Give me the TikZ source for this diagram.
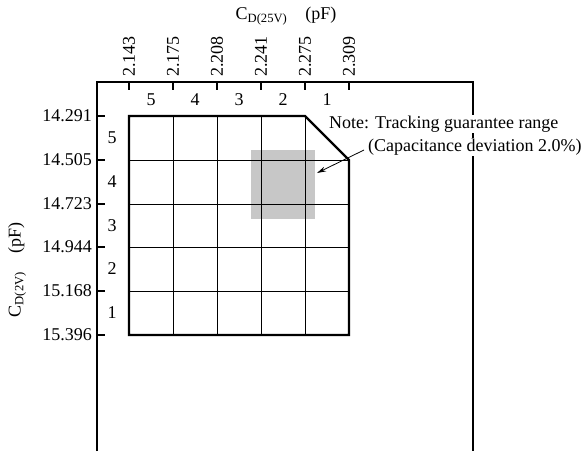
\documentclass[tikz,border=0pt]{standalone}
\usepackage{fontspec}
\setmainfont{Liberation Serif}
\usetikzlibrary{arrows.meta}
\begin{document}
\begin{tikzpicture}[x=1pt,y=-1pt,
  lbl/.style={inner sep=0pt,font=\fontsize{18}{21}\selectfont},
  framel/.style={line width=1.3pt},
  gridl/.style={line width=0.9pt},
  outl/.style={line width=2.4pt,line join=miter},
]
\useasboundingbox (0,0) rectangle (586,451);
% frame
\draw[framel] (97,451) -- (97,82) -- (473,82) -- (473,451);
% top ticks and labels
\foreach \x/\v [count=\i] in {129/2.143,173/2.175,217/2.208,261/2.241,305/2.275,349/2.309}{
  \draw[framel] (\x,82) -- (\x,90);
  \node[lbl,rotate=90,anchor=west] (t\i) at (\x,77) {\v};
}
% left ticks and labels
\foreach \y/\v [count=\i] in {116/14.291,160/14.505,204/14.723,247/14.944,291/15.168,335/15.396}{
  \draw[framel] (97,\y) -- (105,\y);
  \node[lbl,anchor=east] (l\i) at (92,\y) {\v};
}
% column numbers
\foreach \x/\n in {151/5,195/4,239/3,283/2,327/1}{
  \node[lbl] (c\n) at (\x,100) {\n};
}
% row numbers
\foreach \y/\n in {138/5,182/4,226/3,269/2,313/1}{
  \node[lbl] (r\n) at (112,\y) {\n};
}
% gray region
\fill[black!22] (251,150) rectangle (315,219);
% grid
\foreach \x in {173,217,261,305}{ \draw[gridl] (\x,116) -- (\x,335); }
\foreach \y in {160,204,247,291}{ \draw[gridl] (129,\y) -- (349,\y); }
% outline
\draw[outl] (129,116) -- (305,116) -- (349,160) -- (349,335) -- (129,335) -- cycle;
% axis titles
\node[lbl] (xt) at (286,16) {C\textsubscript{D(25V)}\quad(pF)};
\node[lbl,rotate=90] (yt) at (17,270) {C\textsubscript{D(2V)}\quad(pF)};
% note
\node[lbl,anchor=west,fill=white,inner sep=1pt] (n1) at (328,124) {Note: Tracking guarantee range};
\node[lbl,anchor=west,fill=white,inner sep=1pt] (n2) at (367,147) {(Capacitance deviation 2.0\%)};
\coordinate (as) at (364,150);
\coordinate (ae) at (317,173);
\draw[line width=0.8pt,-{Stealth[length=9pt,width=5pt]}] (as) -- (ae);
\end{tikzpicture}
\end{document}
